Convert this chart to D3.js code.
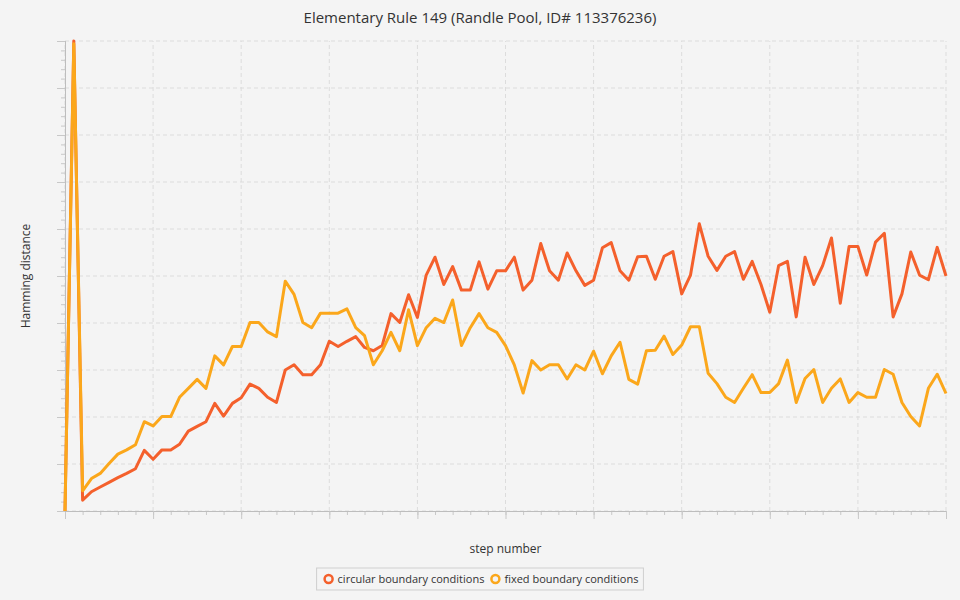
<!DOCTYPE html>
<html><head><meta charset="utf-8">
<script src="https://cdn.jsdelivr.net/npm/d3@7"></script>
<style>
body{margin:0;background:#f4f4f4;font-family:"Segoe UI","Open Sans",sans-serif}
</style></head><body>
<svg id="chart" width="960" height="600"></svg>
<script>
// data: Hamming distance per step
const circular = [0,100,2.3,4.1,5.1,6.1,7.1,8.0,9.0,12.9,11.0,13.0,13.0,14.2,17.0,18.0,19.0,22.9,20.2,22.9,
  24.1,27.0,26.1,24.2,23.1,30.0,31.1,29.0,29.0,31.1,36.1,35.0,36.1,37.1,34.8,34.1,35.2,42.0,40.1,46.0,
  41.2,50.2,54.0,48.2,52.0,47.0,47.0,53.0,47.2,51.1,51.1,54.0,47.0,49.1,56.9,51.1,49.1,54.9,51.1,48.0,
  49.1,56.0,57.1,51.1,49.1,54.1,54.2,49.3,54.2,55.2,46.2,50.2,61.1,54.2,51.2,54.2,55.2,49.3,53.1,48.2,
  42.3,52.2,53.1,41.3,54.0,48.2,52.2,58.1,44.2,56.3,56.3,50.2,57.2,59.1,41.3,46.2,55.1,50.2,49.2,56.1,50.0];
const fixed = [0,99.4,4.3,6.9,8.0,10.1,12.1,13.0,14.1,19.0,18.1,20.1,20.1,24.2,26.1,28.0,26.1,33.0,31.1,35.0,
  35.0,40.1,40.1,38.1,37.1,48.9,46.1,40.1,39.0,42.1,42.1,42.1,43.0,39.0,37.3,31.1,34.1,38.0,34.1,42.8,
  35.2,39.0,41.0,40.1,44.9,35.2,39.0,42.0,39.0,38.0,35.2,31.1,25.1,32.0,30.0,31.1,31.1,28.1,31.1,30.0,
  34.0,29.2,33.0,35.9,28.0,27.0,34.1,34.2,37.2,33.3,35.3,39.2,39.2,29.3,27.1,24.2,23.1,26.1,29.0,25.2,
  25.2,27.1,32.1,23.1,28.2,30.1,23.1,26.1,28.1,23.1,25.2,24.2,24.2,30.1,29.1,23.1,20.1,18.1,26.1,29.1,25.0];
const seriesNames = ["circular boundary conditions", "fixed boundary conditions"];
const seriesColors = ["#f4602c", "#fba71b"];

const svg = d3.select("#chart");
const margin = {left: 65, right: 14, top: 41, bottom: 89};
const W = 960, H = 600;
const x = d3.scaleLinear().domain([0, 100]).range([margin.left, W - margin.right]);
const y = d3.scaleLinear().domain([0, 100]).range([H - margin.bottom, margin.top]);

// grid
const grid = svg.append("g").attr("stroke", "#dcdcdc").attr("stroke-dasharray", "4,3");
d3.range(0, 101, 10).forEach(v => {
  grid.append("line").attr("x1", x(v)).attr("x2", x(v)).attr("y1", y(0)).attr("y2", y(100));
  grid.append("line").attr("x1", x(0)).attr("x2", x(100)).attr("y1", y(v)).attr("y2", y(v));
});

// axes (no labels)
const xAxis = svg.append("g").attr("transform", `translate(0,${y(0)})`);
xAxis.call(d3.axisBottom(x).tickValues(d3.range(0, 101, 2)).tickSize(4).tickFormat(""));
xAxis.append("g").call(d3.axisBottom(x).tickValues(d3.range(0, 101, 10)).tickSize(8).tickFormat(""));
const yAxis = svg.append("g").attr("transform", `translate(${x(0)},0)`);
yAxis.call(d3.axisLeft(y).tickValues(d3.range(0, 101, 2)).tickSize(4).tickFormat(""));
yAxis.append("g").call(d3.axisLeft(y).tickValues(d3.range(0, 101, 10)).tickSize(8).tickFormat(""));
svg.selectAll(".domain").attr("stroke", "#bdbdbd");
svg.selectAll(".tick line").attr("stroke", "#c8c8c8");

// lines
const line = d3.line().x((d, i) => x(i)).y(d => y(d));
[circular, fixed].forEach((s, k) => {
  svg.append("path").datum(s).attr("d", line).attr("fill", "none")
    .attr("stroke", seriesColors[k]).attr("stroke-width", 3).attr("stroke-linejoin", "round");
});

// texts
svg.append("text").attr("x", W / 2).attr("y", 23).attr("text-anchor", "middle")
  .attr("font-size", 15).attr("fill", "#333").text("Elementary Rule 149 (Randle Pool, ID# 113376236)");
svg.append("text").attr("x", (x(0) + x(100)) / 2).attr("y", 553).attr("text-anchor", "middle")
  .attr("font-size", 12).attr("fill", "#333").text("step number");
svg.append("text").attr("transform", `translate(30,${(y(0) + y(100)) / 2}) rotate(-90)`)
  .attr("text-anchor", "middle").attr("font-size", 12).attr("fill", "#333").text("Hamming distance");

// legend
const legend = svg.append("g");
const items = legend.append("g");
let lx = 0;
seriesNames.forEach((n, k) => {
  const g = items.append("g").attr("transform", `translate(${lx},0)`);
  g.append("circle").attr("cx", 5).attr("cy", 0).attr("r", 4).attr("fill", "none")
    .attr("stroke", seriesColors[k]).attr("stroke-width", 2.5);
  const t = g.append("text").attr("x", 14).attr("y", 4).attr("font-size", 11).attr("fill", "#333").text(n);
  lx += 14 + t.node().getComputedTextLength() + 6;
});
const lw = lx + 6;
legend.insert("rect", ":first-child").attr("x", W / 2 - lw / 2).attr("y", 568).attr("width", lw).attr("height", 22)
  .attr("fill", "#f4f4f4").attr("stroke", "#cfcfcf");
items.attr("transform", `translate(${W / 2 - lw / 2 + 7},579)`);
</script>
</body></html>
